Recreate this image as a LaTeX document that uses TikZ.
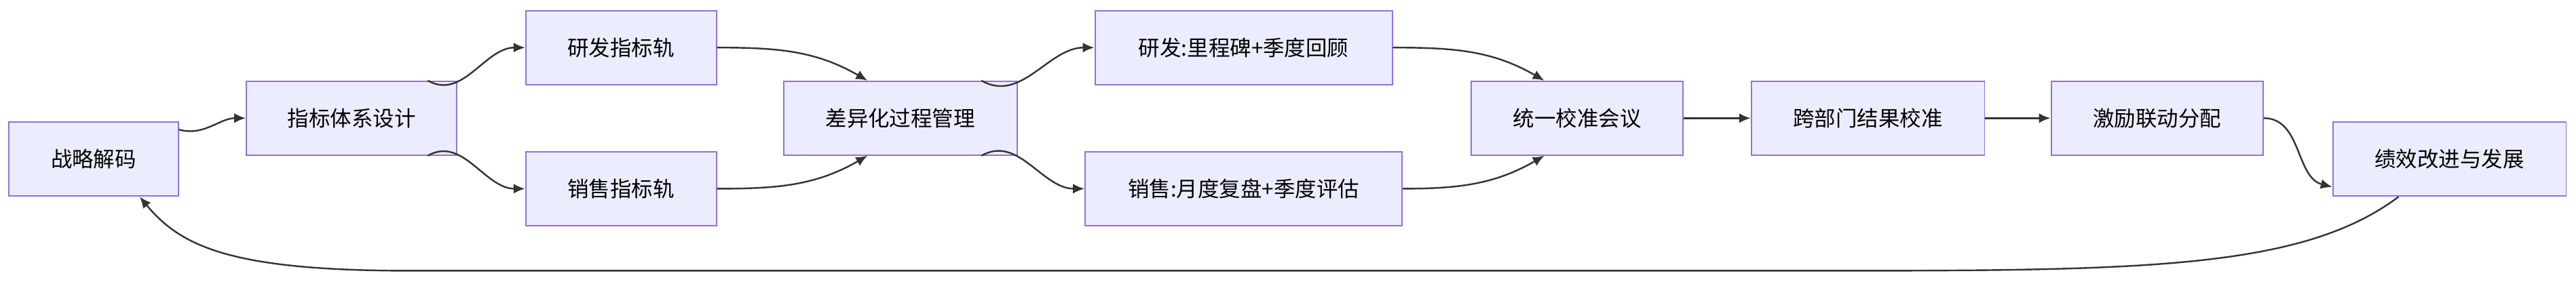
\documentclass[tikz,border=0pt]{standalone}
\usepackage{fontspec}
\newfontfamily\cjk{Noto Sans CJK SC}
\usetikzlibrary{arrows.meta}
\definecolor{boxfill}{HTML}{ECECFF}
\definecolor{boxline}{HTML}{9370DB}
\definecolor{edge}{HTML}{333333}
\begin{document}
\begin{tikzpicture}[x=1pt, y=-1pt, every node/.style={font=\cjk\fontsize{13}{15}\selectfont}]

% Styles
\tikzset{box/.style={rectangle, draw=boxline, fill=boxfill, minimum height=45pt, text centered, line width=0.8pt},
         arrow/.style={draw=edge, line width=1pt, -{Latex[length=7pt,width=6pt]}}}

\useasboundingbox (0,0) rectangle (1568,173);

% Nodes
\node (decode) [box, minimum width=103pt] at (57,97) {战略解码};
\node (design) [box, minimum width=128pt] at (214,72) {指标体系设计};
\node (rdtrack) [box, minimum width=116pt] at (378,29) {研发指标轨};
\node (saletrack) [box, minimum width=116pt] at (378,115) {销售指标轨};
\node (process) [box, minimum width=142pt] at (548,72) {差异化过程管理};
\node (rdreview) [box, minimum width=181pt] at (757,29) {研发:里程碑+季度回顾};
\node (salereview) [box, minimum width=193pt] at (757,115) {销售:月度复盘+季度评估};
\node (calib) [box, minimum width=129pt] at (960,72) {统一校准会议};
\node (cross) [box, minimum width=142pt] at (1137,72) {跨部门结果校准};
\node (reward) [box, minimum width=129pt] at (1313,72) {激励联动分配};
\node (improve) [box, minimum width=142pt] at (1491,97) {绩效改进与发展};

% Arrows
\draw [arrow] (decode.east) ++(0,-18) to[out=-15,in=180] (design.west);
\draw [arrow] ([xshift=-18pt]design.north east) to[out=-30,in=180] (rdtrack.west);
\draw [arrow] ([xshift=-18pt]design.south east) to[out=30,in=180] (saletrack.west);
\draw [arrow] (rdtrack.east) to[out=0,in=150] ([xshift=-20pt]process.north);
\draw [arrow] (saletrack.east) to[out=0,in=-150] ([xshift=-20pt]process.south);
\draw [arrow] ([xshift=-22pt]process.north east) to[out=-30,in=180] (rdreview.west);
\draw [arrow] ([xshift=-22pt]process.south east) to[out=30,in=180] (salereview.west);
\draw [arrow] (rdreview.east) to[out=0,in=150] ([xshift=-20pt]calib.north);
\draw [arrow] (salereview.east) to[out=0,in=-150] ([xshift=-20pt]calib.south);
\draw [arrow] (calib) -- (cross);
\draw [arrow] (cross) -- (reward);
\draw [arrow] (reward.east) to[out=0,in=165] ([yshift=-17pt]improve.west);
\draw [arrow] ([xshift=-31pt]improve.south) .. controls (1400,165) and (1300,165) .. (1100,165) -- (250,165) .. controls (140,165) and (110,150) .. ([xshift=28pt]decode.south);

\end{tikzpicture}
\end{document}
